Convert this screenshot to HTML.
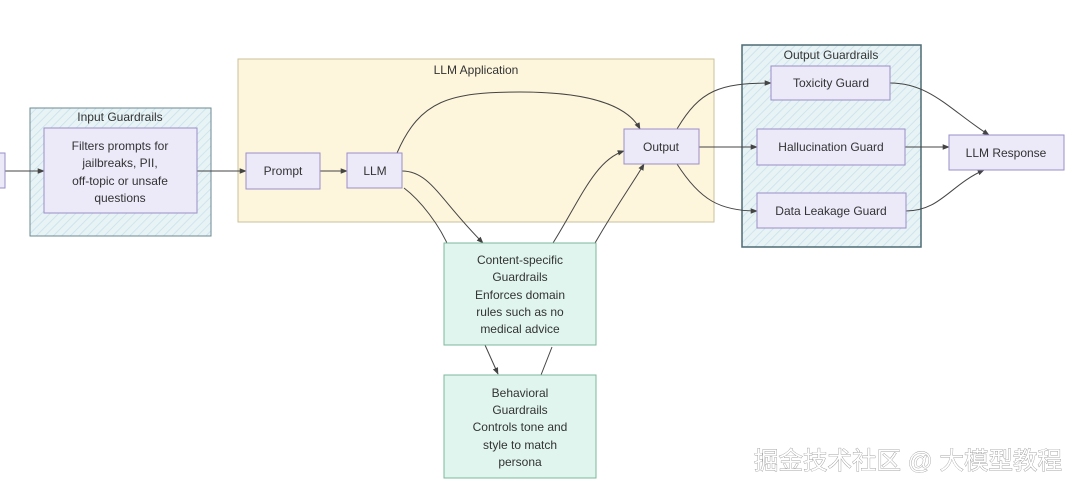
<!DOCTYPE html>
<html><head><meta charset="utf-8"><style>
html,body{margin:0;padding:0;background:#fff;}
svg{display:block;font-family:"Liberation Sans","DejaVu Sans",sans-serif;}
text{font-size:12px;fill:#333;text-anchor:middle;}
.wm{font-family:"Liberation Sans","Noto Sans CJK SC",sans-serif;font-size:24.5px;fill:#fff;text-anchor:start;stroke:#888;stroke-width:0.7px;paint-order:stroke;}
</style></head><body>
<svg width="1080" height="489" viewBox="0 0 1080 489">
<defs>
<pattern id="h" width="6" height="6" patternUnits="userSpaceOnUse" patternTransform="rotate(45)">
<rect width="6" height="6" fill="#e8f3f6"/><line x1="0" y1="0" x2="0" y2="6" stroke="#c7e0e8" stroke-width="1.5"/></pattern>
<marker id="a" viewBox="0 0 10 10" refX="9" refY="5" markerWidth="7" markerHeight="7" orient="auto"><path d="M0,1L10,5L0,9z" fill="#444"/></marker>
</defs>
<rect x="238" y="59" width="476" height="163" fill="#fdf6dc" stroke="#c9c09a"/>
<text x="476" y="74">LLM Application</text>
<rect x="30" y="108" width="181" height="128" fill="url(#h)" stroke="#6b8a93"/>
<text x="120" y="121">Input Guardrails</text>
<rect x="742" y="45" width="179" height="202" fill="url(#h)" stroke="#4c6b73" stroke-width="1.5"/>
<text x="831" y="59">Output Guardrails</text>
<g fill="none" stroke="#444" stroke-width="1">
<path d="M0,171 L44,171" marker-end="url(#a)"/>
<path d="M197,171 C220,171 230,171 246,171" marker-end="url(#a)"/>
<path d="M320,171 L347,171" marker-end="url(#a)"/>
<path d="M397,153 C420,100 450,92 520,92 C600,92 630,110 640,129" marker-end="url(#a)"/>
<path d="M402,171 C430,171 440,200 483,243" marker-end="url(#a)"/>
<path d="M404,188 C420,200 440,225 450,250"/>
<path d="M485,345 L498,374" marker-end="url(#a)"/>
<path d="M541,375 L552,347"/>
<path d="M553,243 C580,200 595,160 624,151" marker-end="url(#a)"/>
<path d="M595,243 C620,200 635,180 644,164" marker-end="url(#a)"/>
<path d="M677,129 C700,90 720,83 771,83" marker-end="url(#a)"/>
<path d="M699,147 L757,147" marker-end="url(#a)"/>
<path d="M677,164 C700,200 720,211 757,211" marker-end="url(#a)"/>
<path d="M890,83 C930,83 950,110 989,135" marker-end="url(#a)"/>
<path d="M905,147 L949,147" marker-end="url(#a)"/>
<path d="M906,211 C940,211 950,185 984,170" marker-end="url(#a)"/>
</g>
<g stroke="#9a8fc8" fill="#ece9f8">
<rect x="-10" y="153" width="15" height="35"/>
<rect x="44" y="128" width="153" height="85"/>
<rect x="246" y="153" width="74" height="36"/>
<rect x="347" y="153" width="55" height="35"/>
<rect x="624" y="129" width="75" height="35"/>
<rect x="771" y="66" width="119" height="34"/>
<rect x="757" y="129" width="148" height="36"/>
<rect x="757" y="193" width="149" height="35"/>
<rect x="949" y="135" width="115" height="35"/>
</g>
<g stroke="#7db89c" fill="#e0f5ee">
<rect x="444" y="243" width="152" height="102"/>
<rect x="444" y="375" width="152" height="103"/>
</g>
<text x="120" y="150">Filters prompts for</text>
<text x="120" y="167">jailbreaks, PII,</text>
<text x="120" y="185">off-topic or unsafe</text>
<text x="120" y="202">questions</text>
<text x="283" y="175">Prompt</text>
<text x="375" y="175">LLM</text>
<text x="661" y="151">Output</text>
<text x="831" y="87">Toxicity Guard</text>
<text x="831" y="151">Hallucination Guard</text>
<text x="831" y="215">Data Leakage Guard</text>
<text x="1006" y="157">LLM Response</text>
<text x="520" y="264">Content-specific</text>
<text x="520" y="281">Guardrails</text>
<text x="520" y="299">Enforces domain</text>
<text x="520" y="316">rules such as no</text>
<text x="520" y="333">medical advice</text>
<text x="520" y="397">Behavioral</text>
<text x="520" y="414">Guardrails</text>
<text x="520" y="431">Controls tone and</text>
<text x="520" y="449">style to match</text>
<text x="520" y="466">persona</text>
<text class="wm" x="754" y="469">掘金技术社区 @ 大模型教程</text>
</svg>
</body></html>
